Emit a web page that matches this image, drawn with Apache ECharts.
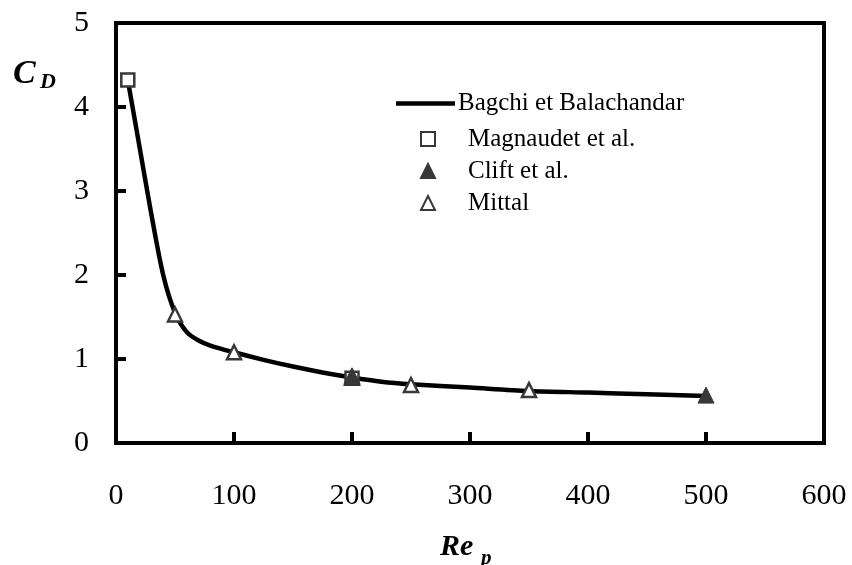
<!DOCTYPE html>
<html>
<head>
<meta charset="utf-8">
<script src="https://cdn.jsdelivr.net/npm/echarts@6/dist/echarts.min.js"></script>
<style>html,body{margin:0;padding:0;background:#fff}#c{width:852px;height:565px}</style>
</head>
<body>
<div id="c"></div>
<script>
// Data
const xTicks = [0, 100, 200, 300, 400, 500, 600];
const yTicks = [0, 1, 2, 3, 4, 5];
const bagchiRe = [10, 20, 30, 40, 50, 60, 70, 80, 100, 125, 150, 175, 200, 225, 250, 300, 350, 400, 450, 500];
const bagchiCd = [4.32, 3.52, 2.72, 2.0, 1.55, 1.32, 1.22, 1.16, 1.08, 0.99, 0.91, 0.84, 0.78, 0.73, 0.70, 0.66, 0.62, 0.60, 0.58, 0.56];
const magnaudetRe = [10, 200];
const magnaudetCd = [4.32, 0.77];
const cliftRe = [200, 500];
const cliftCd = [0.80, 0.57];
const mittalRe = [50, 100, 200, 250, 350];
const mittalCd = [1.53, 1.08, 0.78, 0.69, 0.63];

const zip = (a, b) => a.map((v, i) => [v, b[i]]);
const serif = '"Liberation Serif", "Times New Roman", serif';
const mk = '#383838';

const chart = echarts.init(document.getElementById('c'));
chart.setOption({
  animation: false,
  backgroundColor: '#fff',
  grid: { left: 116, right: 28, top: 23, bottom: 122, show: true, borderColor: '#000', borderWidth: 4, backgroundColor: 'transparent' },
  xAxis: {
    type: 'value', min: xTicks[0], max: xTicks[xTicks.length - 1], interval: 100,
    axisLine: { show: true, lineStyle: { color: '#000', width: 4 } },
    axisTick: { show: true, inside: true, length: 11, lineStyle: { color: '#000', width: 4 } },
    axisLabel: { margin: 38, fontFamily: serif, fontSize: 30, color: '#000' },
    splitLine: { show: false }
  },
  yAxis: {
    type: 'value', min: yTicks[0], max: yTicks[yTicks.length - 1], interval: 1,
    axisLine: { show: true, lineStyle: { color: '#000', width: 4 } },
    axisTick: { show: true, inside: true, length: 10, lineStyle: { color: '#000', width: 4 } },
    axisLabel: { margin: 27, fontFamily: serif, fontSize: 30, color: '#000' },
    splitLine: { show: false }
  },
  legend: [
    {
      data: [{ name: 'Bagchi et Balachandar', icon: 'rect', itemStyle: { color: '#000' } }],
      left: 391, top: 86, itemWidth: 59, itemHeight: 4.5,
      textStyle: { fontFamily: serif, fontSize: 25, color: '#000', padding: [0, 0, 0, -2] }
    },
    {
      data: ['Magnaudet et al.', 'Clift et al.', 'Mittal'], orient: 'vertical', left: 415, top: 121,
      itemWidth: 14, itemHeight: 14, itemGap: 6,
      textStyle: { fontFamily: serif, fontSize: 25, color: '#000', lineHeight: 26, padding: [0, 0, 0, 28] }
    }
  ],
  series: [
    {
      name: 'Bagchi et Balachandar', type: 'line', data: zip(bagchiRe, bagchiCd),
      showSymbol: false, symbol: 'none', smooth: 0.3,
      lineStyle: { color: '#000', width: 4.5 }, itemStyle: { color: '#000' }, z: 2
    },
    {
      name: 'Magnaudet et al.', type: 'scatter', data: zip(magnaudetRe, magnaudetCd),
      symbol: 'rect', symbolSize: 13,
      itemStyle: { color: '#fff', borderColor: mk, borderWidth: 2.5, opacity: 1 }, z: 3
    },
    {
      name: 'Mittal', type: 'scatter', data: zip(mittalRe, mittalCd),
      symbol: 'triangle', symbolSize: 14,
      itemStyle: { color: '#fff', borderColor: mk, borderWidth: 2.5, opacity: 1 }, z: 3
    },
    {
      name: 'Clift et al.', type: 'scatter', data: zip(cliftRe, cliftCd),
      symbol: 'triangle', symbolSize: 16,
      itemStyle: { color: mk, borderColor: mk, borderWidth: 1, opacity: 1 }, z: 4
    }
  ],
  graphic: [
    { type: 'text', left: 13, top: 57, style: { text: 'C', font: 'italic bold 34px ' + serif, fill: '#000' } },
    { type: 'text', left: 40, top: 71, style: { text: 'D', font: 'italic bold 22px ' + serif, fill: '#000' } },
    { type: 'text', left: 440, top: 532, style: { text: 'Re', font: 'italic bold 30px ' + serif, fill: '#000' } },
    { type: 'text', left: 481, top: 548, style: { text: 'p', font: 'italic bold 21px ' + serif, fill: '#000' } }
  ]
});
</script>
</body>
</html>
